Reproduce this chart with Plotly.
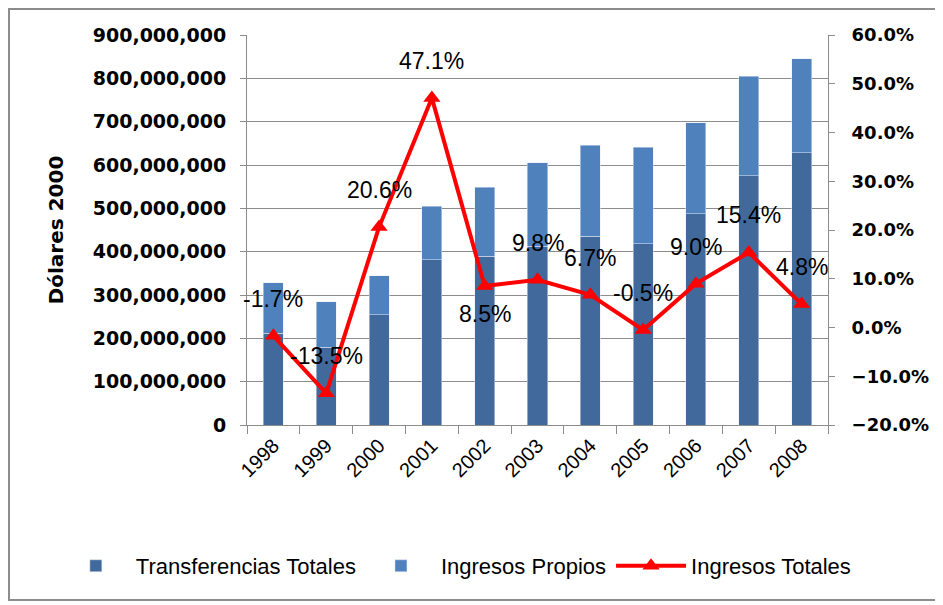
import plotly.graph_objects as go

years = ['1998', '1999', '2000', '2001', '2002', '2003', '2004', '2005', '2006', '2007', '2008']
transferencias = [212e6, 180e6, 254e6, 381e6, 390e6, 413e6, 436e6, 418e6, 487e6, 575e6, 628e6]
totales = [328e6, 284e6, 344e6, 505e6, 549e6, 605e6, 646e6, 641e6, 698e6, 805e6, 845e6]
propios = [t - tr for t, tr in zip(totales, transferencias)]
crecimiento = [-1.7, -13.5, 20.6, 47.1, 8.5, 9.8, 6.7, -0.5, 9.0, 15.4, 4.8]

DARK = '#41699B'
LIGHT = '#4F81BD'
RED = '#FF0000'
GRID = '#8C8C8C'
LABELFONT = dict(family='Liberation Sans', size=23, color='black')

fig = go.Figure()
fig.add_trace(go.Bar(x=years, y=transferencias, name='Transferencias Totales', marker_color=DARK))
fig.add_trace(go.Bar(x=years, y=propios, name='Ingresos Propios', marker_color=LIGHT))
fig.add_trace(go.Scatter(
    x=years, y=[v / 100 for v in crecimiento], name='Ingresos Totales', yaxis='y2',
    mode='lines+markers', line=dict(color=RED, width=4),
    marker=dict(symbol='triangle-up', size=15, color=RED)
))

# data labels for the growth line (x given as category index)
for i, v in enumerate(crecimiento):
    fig.add_annotation(
        x=i, y=v / 100, xref='x', yref='y2', text=f'{v:.1f}%', showarrow=False,
        yshift=-28 if years[i] == '2002' else 37, font=LABELFONT
    )

# outer frame
fig.add_shape(type='rect', xref='paper', yref='paper',
              x0=-0.4096, x1=1.1876, y0=-0.4487, y1=1.0667,
              line=dict(color='#8C8C8C', width=2))

fig.update_layout(
    width=943, height=605,
    margin=dict(l=239, r=123, t=27, b=188, autoexpand=False),
    plot_bgcolor='white', paper_bgcolor='white',
    barmode='stack', bargap=0.62,
    showlegend=True,
    legend=dict(orientation='h', x=-0.329, xanchor='left',
                y=-0.3615, yanchor='middle', itemwidth=70,
                font=dict(family='Liberation Sans', size=22, color='black'),
                traceorder='normal'),
    xaxis=dict(type='category', range=[-0.5, 10.5], tickangle=-45, ticks='outside',
               tickson='boundaries', ticklen=8, tickcolor=GRID, showline=True,
               linecolor=GRID, linewidth=1,
               tickfont=dict(family='Liberation Sans', size=20, color='black')),
    yaxis=dict(range=[0, 900e6], dtick=100e6, tickformat=',d', ticks='outside', ticklen=6,
               ticklabelstandoff=10,
               tickcolor=GRID, showline=True, linecolor=GRID, gridcolor=GRID, gridwidth=1,
               tickfont=dict(family='DejaVu Sans', size=19, color='black', weight='bold'),
               zeroline=False,
               title=dict(text='Dólares 2000', standoff=23,
                          font=dict(family='DejaVu Sans', size=20, color='black', weight='bold'))),
    yaxis2=dict(range=[-0.2, 0.6], dtick=0.1, tickformat='.1%', overlaying='y', side='right',
                ticks='outside', ticklen=6, ticklabelstandoff=13, tickcolor=GRID,
                showline=True, linecolor=GRID,
                showgrid=False, zeroline=False,
                tickfont=dict(family='DejaVu Sans', size=18, color='black', weight='bold')),
)

fig.write_html('out.html')
